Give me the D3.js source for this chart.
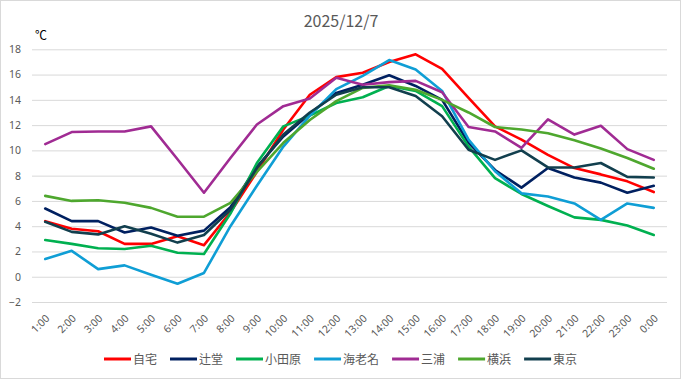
<!DOCTYPE html>
<html>
<head>
<meta charset="utf-8">
<title>2025/12/7</title>
<script src="https://cdn.jsdelivr.net/npm/d3@7"></script>
<style type="text/css">
	html, body{
		margin:0;
		background:#fff;
	}
	#chart{
		position:absolute;
		left:0;
		top:0;
	}
	text{
		font-family: "Noto Sans CJK JP", "Noto Sans", sans-serif;
	}
</style>
</head>
<body>
<div id="chart"></div>
<script type="text/javascript">
// hours along the x axis
var hours = ["1:00","2:00","3:00","4:00","5:00","6:00","7:00","8:00","9:00","10:00","11:00","12:00",
	"13:00","14:00","15:00","16:00","17:00","18:00","19:00","20:00","21:00","22:00","23:00","0:00"];

var yTicks = [-2, 0, 2, 4, 6, 8, 10, 12, 14, 16, 18];

// temperature per station (℃)
var jitaku   = [4.4, 3.8, 3.6, 2.6, 2.6, 3.2, 2.5, 5.1, 8.3, 11.65, 14.4, 15.8, 16.15, 17.0, 17.6, 16.45, 14.15, 11.9, 10.85, 9.65, 8.6, 8.1, 7.55, 6.7];
var tsujido  = [5.4, 4.4, 4.4, 3.5, 3.9, 3.25, 3.65, 5.5, 8.7, 11.1, 12.9, 14.55, 15.2, 15.95, 15.1, 14.0, 10.6, 8.45, 7.05, 8.6, 7.85, 7.45, 6.65, 7.2];
var odawara  = [2.9, 2.6, 2.25, 2.2, 2.45, 1.9, 1.8, 5.0, 9.0, 11.9, 12.75, 13.75, 14.2, 15.1, 14.7, 13.5, 10.3, 7.8, 6.55, 5.6, 4.7, 4.5, 4.05, 3.3];
var ebina    = [1.4, 2.05, 0.6, 0.9, 0.15, -0.55, 0.3, 4.0, 7.2, 10.3, 12.75, 14.85, 15.9, 17.15, 16.4, 14.7, 10.85, 8.35, 6.6, 6.35, 5.8, 4.5, 5.8, 5.45];
var miura    = [10.5, 11.45, 11.5, 11.5, 11.9, 9.3, 6.65, 9.4, 12.05, 13.5, 14.1, 15.75, 15.2, 15.4, 15.5, 14.6, 11.85, 11.5, 10.2, 12.45, 11.25, 11.95, 10.1, 9.25];
var yokohama = [6.4, 6.0, 6.05, 5.85, 5.45, 4.75, 4.75, 5.85, 8.3, 10.6, 12.4, 13.9, 14.95, 15.15, 14.8, 14.0, 13.0, 11.85, 11.65, 11.35, 10.8, 10.15, 9.4, 8.55];
var tokyo    = [4.35, 3.55, 3.35, 4.0, 3.4, 2.7, 3.3, 5.3, 8.6, 11.25, 13.0, 14.4, 15.0, 15.0, 14.3, 12.7, 10.05, 9.25, 10.0, 8.65, 8.65, 9.0, 7.9, 7.85];

var names  = ["自宅", "辻堂", "小田原", "海老名", "三浦", "横浜", "東京"];
var colors = ["#ff0000", "#002060", "#00b050", "#0f9ed5", "#a02b93", "#4ea72e", "#123f4e"];
var series = [jitaku, tsujido, odawara, ebina, miura, yokohama, tokyo];

var W = 681, H = 379;
var grey = "#595959";

var svg = d3.select("#chart").append("svg")
	.attr("width", W)
	.attr("height", H);

// outer frame
svg.append("rect")
	.attr("x", 0.5).attr("y", 0.5)
	.attr("width", W - 1).attr("height", H - 1)
	.attr("fill", "#fff")
	.attr("stroke", "#d9d9d9");

var x = d3.scaleBand().domain(hours).range([32, 667]);
var y = d3.scaleLinear().domain([-2, 18]).range([302, 49.3]);

// grid + y labels
var yAxis = d3.axisLeft(y).tickValues(yTicks).tickSize(-(667 - 32)).tickPadding(11);
var gy = svg.append("g").attr("transform", "translate(32,0)").call(yAxis);
gy.select(".domain").remove();
gy.selectAll(".tick line").attr("stroke", "#d9d9d9");
gy.selectAll(".tick text")
	.attr("fill", grey)
	.style("font-size", "10.5px")
	.style("font-family", "'Noto Sans', sans-serif");

// x labels, rotated
var xAxis = d3.axisBottom(x).tickSize(0).tickPadding(0);
var gx = svg.append("g").attr("transform", "translate(0,302)").call(xAxis);
gx.select(".domain").remove();
gx.selectAll(".tick text")
	.attr("fill", grey)
	.style("font-size", "10.5px")
	.style("font-family", "'Noto Sans', sans-serif")
	.attr("text-anchor", "end")
	.attr("dy", null)
	.attr("transform", "translate(5,17) rotate(-45)")
	.attr("y", 0)
	.attr("x", 0);

// lines
var line = d3.line()
	.x(function(d, i){ return x(hours[i]) + x.bandwidth() / 2; })
	.y(function(d){ return y(d); });

svg.append("g").selectAll("path")
	.data(series)
	.enter().append("path")
	.attr("d", line)
	.attr("fill", "none")
	.attr("stroke", function(d, i){ return colors[i]; })
	.attr("stroke-width", 2.6)
	.attr("stroke-linejoin", "round")
	.attr("stroke-linecap", "round");

// title and unit
svg.append("text")
	.attr("x", 341).attr("y", 27)
	.attr("text-anchor", "middle")
	.attr("fill", grey)
	.style("font-size", "16px")
	.text("2025/12/7");

svg.append("text")
	.attr("x", 35).attr("y", 40)
	.attr("fill", "#000")
	.style("font-size", "12px")
	.text("℃");

// legend
var leg = svg.append("g");
var lx = 0;
names.forEach(function(n, i){
	var item = leg.append("g").attr("transform", "translate(" + lx + ",0)");
	item.append("line")
		.attr("x1", 0).attr("x2", 27)
		.attr("y1", 0).attr("y2", 0)
		.attr("stroke", colors[i])
		.attr("stroke-width", 3);
	var t = item.append("text")
		.attr("x", 29).attr("y", 4.5)
		.attr("fill", grey)
		.style("font-size", "12px")
		.text(n);
	lx += 29 + t.node().getComputedTextLength() + 13;
});
leg.attr("transform", "translate(" + (104) + ",359)");
</script>
</body>
</html>
